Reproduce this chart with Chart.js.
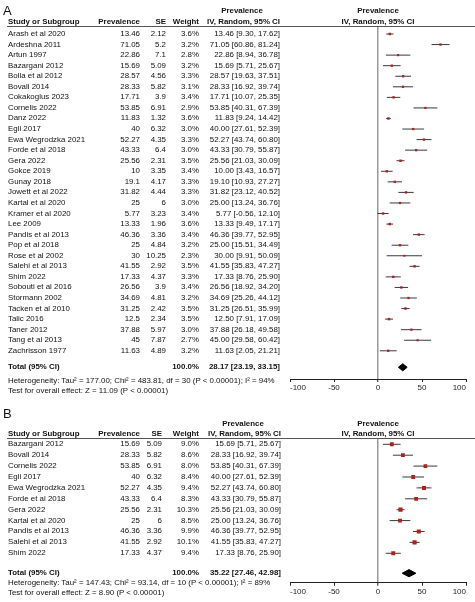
<!DOCTYPE html>
<html><head><meta charset="utf-8">
<script src="https://cdn.jsdelivr.net/npm/chart.js@4.4.0/dist/chart.umd.min.js"></script>
<style>
html,body{margin:0;padding:0;background:#fff;}
#wrap{position:relative;width:475px;height:602px;overflow:hidden;font-family:"Liberation Sans",Arial,sans-serif;color:#111;}
canvas{position:absolute;left:0;}
.t{position:absolute;white-space:nowrap;font-size:7.9px;line-height:12px;height:12px;}
.b{font-weight:bold;}
.hl{position:absolute;height:1px;background:#555;}
</style></head><body>
<div id="wrap">
<canvas id="cA" width="475" height="400" style="top:0"></canvas>
<canvas id="cB" width="475" height="202" style="top:400px"></canvas>
</div>
<script>
// ---------- DATA: panel A ----------
const studiesA = ["Arash et al 2020","Ardeshna 2011","Artun 1997","Bazargani 2012","Bolla et al 2012","Bovali 2014","Cokakoglus 2023","Cornelis 2022","Danz 2022","Egli 2017","Ewa Wegrodzka 2021","Forde et al 2018","Gera 2022","Gokce 2019","Gunay 2018","Jowett et al 2022","Kartal et al 2020","Kramer et al 2020","Lee 2009","Pandis et al 2013","Pop et al 2018","Rose et al 2002","Salehi et al 2013","Shim 2022","Sobouti et al 2016","Stormann 2002","Tacken et al 2010","Talic 2016","Taner 2012","Tang et al 2013","Zachrisson 1977"];
const prevA = [13.46,71.05,22.86,15.69,28.57,28.33,17.71,53.85,11.83,40,52.27,43.33,25.56,10,19.1,31.82,25,5.77,13.33,46.36,25,30,41.55,17.33,26.56,34.69,31.25,12.5,37.88,45,11.63];
const seA = [2.12,5.2,7.1,5.09,4.56,5.82,3.9,6.91,1.32,6.32,4.35,6.4,2.31,3.35,4.17,4.44,6,3.23,1.96,3.36,4.84,10.25,2.92,4.37,3.9,4.81,2.42,2.34,5.97,7.87,4.89];
const weightA = [3.6,3.2,2.8,3.2,3.3,3.1,3.4,2.9,3.6,3.0,3.3,3.0,3.5,3.4,3.3,3.3,3.0,3.4,3.6,3.4,3.2,2.3,3.5,3.3,3.4,3.2,3.5,3.5,3.0,2.7,3.2];
const lowA = [9.30,60.86,8.94,5.71,19.63,16.92,10.07,40.31,9.24,27.61,43.74,30.79,21.03,3.43,10.93,23.12,13.24,-0.56,9.49,39.77,15.51,9.91,35.83,8.76,18.92,25.26,26.51,7.91,26.18,29.58,2.05];
const highA = [17.62,81.24,36.78,25.67,37.51,39.74,25.35,67.39,14.42,52.39,60.80,55.87,30.09,16.57,27.27,40.52,36.76,12.10,17.17,52.95,34.49,50.09,47.27,25.90,34.20,44.12,35.99,17.09,49.58,60.42,21.21];
const totalA = [28.17,23.19,33.15]; // estimate, low, high
const hetA = "Heterogeneity: Tau\u00b2 = 177.00; Chi\u00b2 = 483.81, df = 30 (P < 0.00001); I\u00b2 = 94%";
const testA = "Test for overall effect: Z = 11.09 (P < 0.00001)";

// ---------- DATA: panel B ----------
const studiesB = ["Bazargani 2012","Bovali 2014","Cornelis 2022","Egli 2017","Ewa Wegrodzka 2021","Forde et al 2018","Gera 2022","Kartal et al 2020","Pandis et al 2013","Salehi et al 2013","Shim 2022"];
const prevB = [15.69,28.33,53.85,40,52.27,43.33,25.56,25,46.36,41.55,17.33];
const seB = [5.09,5.82,6.91,6.32,4.35,6.4,2.31,6,3.36,2.92,4.37];
const weightB = [9.0,8.6,8.0,8.4,9.4,8.3,10.3,8.5,9.9,10.1,9.4];
const lowB = [5.71,16.92,40.31,27.61,43.74,30.79,21.03,13.24,39.77,35.83,8.76];
const highB = [25.67,39.74,67.39,52.39,60.80,55.87,30.09,36.76,52.95,47.27,25.90];
const totalB = [35.22,27.46,42.98];
const hetB = "Heterogeneity: Tau\u00b2 = 147.43; Chi\u00b2 = 93.14, df = 10 (P < 0.00001); I\u00b2 = 89%";
const testB = "Test for overall effect: Z = 8.90 (P < 0.00001)";

const xTicks = [-100,-50,0,50,100];
const headersTable = ["Study or Subgroup","Prevalence","SE","Weight","IV, Random, 95% CI"];
const headerTop = "Prevalence";

// ---------- rendering ----------
const FONT = '"Liberation Sans", Arial, sans-serif';
const wrap = document.getElementById('wrap');
function txt(s, x, y, align, bold, size){
  const d = document.createElement('div');
  d.className = 't' + (bold ? ' b' : '');
  d.textContent = s;
  if (size) { d.style.fontSize = size + 'px'; d.style.lineHeight = (size+4)+'px'; d.style.height=(size+4)+'px'; }
  const h = size ? size + 4 : 12;
  d.style.top = (y - h/2) + 'px';
  if (align === 'right') { d.style.right = (475 - x) + 'px'; d.style.textAlign='right'; }
  else if (align === 'center') { d.style.left = (x - 100) + 'px'; d.style.width = '200px'; d.style.textAlign = 'center'; }
  else d.style.left = x + 'px';
  wrap.appendChild(d);
}
function fmtCI(e,l,h){ return e.toFixed(2) + ' [' + l.toFixed(2) + ', ' + h.toFixed(2) + ']'; }

function panel(p){
  const canvas = document.getElementById(p.canvas);
  const n = p.studies.length;
  const datasets = [];
  for (let i = 0; i < n; i++) {
    datasets.push({data:[{x:p.low[i],y:i},{x:p.high[i],y:i}], showLine:true, borderColor:'#3a3a3a', borderWidth:1, pointRadius:0, order:2});
  }
  datasets.push({data:p.prev.map((v,i)=>({x:v,y:i})), showLine:false, pointStyle:'rect',
    pointRadius:p.weight.map(w=>0.92*Math.sqrt(w)), backgroundColor:'#b0201c', borderWidth:0, order:1});
  const t = n - 1 + p.totalGap;
  const tot = p.total;
  datasets.push({data:[{x:tot[1],y:t},{x:tot[0],y:t-p.dh},{x:tot[2],y:t},{x:tot[0],y:t+p.dh},{x:tot[1],y:t}],
    showLine:true, fill:'shape', tension:0, borderColor:'#000', backgroundColor:'#000', borderWidth:1, pointRadius:0, order:0});

  const chart = new Chart(canvas, {
    type:'scatter',
    data:{datasets},
    options:{
      responsive:false, animation:false, devicePixelRatio:1, events:[],
      layout:{padding:{left:290,right:9,top:p.top,bottom:p.bottomPad}},
      plugins:{legend:{display:false},tooltip:{enabled:false}},
      scales:{
        x:{type:'linear',min:-100,max:100,position:'bottom',
          afterBuildTicks:a=>{a.ticks = xTicks.map(v=>({value:v}));},
          afterFit:a=>{a.height = 20;},
          ticks:{font:{size:8,family:FONT},color:'#222',padding:1,maxRotation:0,autoSkip:false,align:'inner'},
          grid:{color:c=>(c.tick && c.tick.value===0)?'#9a9a9a':'rgba(0,0,0,0)',
                lineWidth:c=>(c.tick && c.tick.value===0)?1.5:1,
                tickColor:'#222',tickWidth:1,tickLength:3,drawTicks:true},
          border:{display:true,color:'#222',width:1}},
        y:{type:'linear',display:false,reverse:true,min:p.ymin,max:p.ymax}
      }
    }
  });

  const ys = chart.scales.y, xs = chart.scales.x;
  const rowY = i => p.off + ys.getPixelForValue(i);
  const c = p.cols;
  txt(p.letter, 3, p.letterY, 'left', false, 13);
  const h1 = p.h1, h2 = p.h2;
  txt(headerTop, c.ciCenter, h1, 'center', true);
  txt(headersTable[0], c.study, h2, 'left', true);
  txt(headersTable[1], c.prev, h2, 'right', true);
  txt(headersTable[2], c.se, h2, 'right', true);
  txt(headersTable[3], c.weight, h2, 'right', true);
  txt(headersTable[4], c.ci, h2, 'right', true);
  const x0 = xs.getPixelForValue(0);
  txt(headerTop, x0, h1, 'center', true);
  txt(headersTable[4], x0, h2, 'center', true);
  const hl = document.createElement('div');
  hl.className = 'hl';
  hl.style.left = '7px'; hl.style.width = '468px';
  hl.style.top = (p.off + chart.chartArea.top - 1) + 'px';
  wrap.appendChild(hl);
  for (let i = 0; i < n; i++) {
    const y = rowY(i);
    txt(p.studies[i], c.study, y, 'left');
    txt(String(p.prev[i]), c.prev, y, 'right');
    txt(String(p.se[i]), c.se, y, 'right');
    txt(p.weight[i].toFixed(1) + '%', c.weight, y, 'right');
    txt(fmtCI(p.prev[i], p.low[i], p.high[i]), c.ci, y, 'right');
  }
  const ty = rowY(t);
  txt('Total (95% CI)', c.study, ty, 'left', true);
  txt('100.0%', c.weight, ty, 'right', true);
  txt(fmtCI(tot[0], tot[1], tot[2]), c.ci, ty, 'right', true);
  txt(p.het, c.study, p.hetY, 'left');
  txt(p.test, c.study, p.testY, 'left');
}

panel({canvas:'cA', off:0, studies:studiesA, prev:prevA, se:seA, weight:weightA, low:lowA, high:highA,
  total:totalA, het:hetA, test:testA, letter:'A', letterY:10,
  top:27, bottomPad:1, ymin:-0.663, ymax:32.67, totalGap:1.56, dh:0.34,
  h1:11, h2:22, hetY:380.7, testY:391,
  cols:{study:8, prev:140, se:166, weight:199, ci:280, ciCenter:242}});

panel({canvas:'cB', off:400, studies:studiesB, prev:prevB, se:seB, weight:weightB, low:lowB, high:highB,
  total:totalB, het:hetB, test:testB, letter:'B', letterY:413,
  top:39, bottomPad:-0.7, ymin:-0.486, ymax:12.70, totalGap:1.83, dh:0.33,
  h1:424, h2:434, hetY:583.3, testY:593.3,
  cols:{study:8, prev:140, se:162, weight:199, ci:281, ciCenter:243}});
</script>
</body></html>
